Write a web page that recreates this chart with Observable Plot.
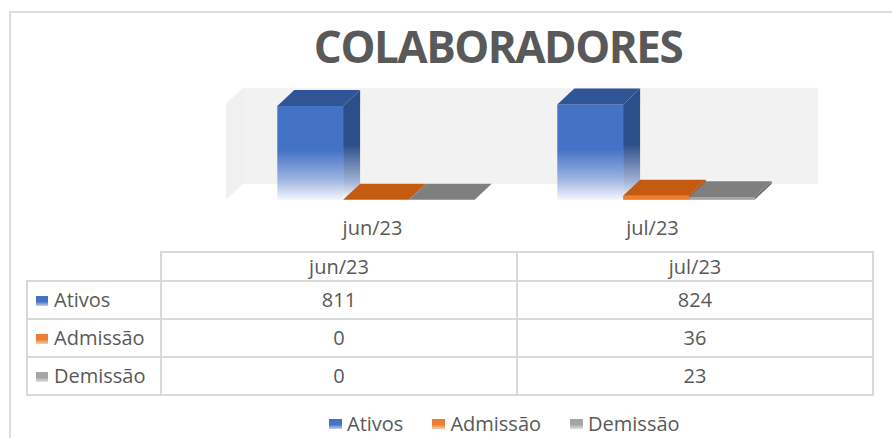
<!DOCTYPE html>
<html><head><meta charset="utf-8">
<script src="https://cdn.jsdelivr.net/npm/d3@7"></script>
<script src="https://cdn.jsdelivr.net/npm/@observablehq/plot@0.6"></script>
<style>
html,body{margin:0;padding:0;background:#fff;}
#root{position:relative;width:892px;height:438px;overflow:hidden;font-family:"Open Sans",sans-serif;color:#595959;background:#fff;}
#frame{position:absolute;left:9px;top:11px;width:1000px;height:1000px;border-left:2px solid #dedede;border-top:2px solid #dedede;}
#title{position:absolute;left:52px;top:24px;width:892px;text-align:center;font-size:44px;line-height:44px;font-weight:700;letter-spacing:-1.5px;}
#chart{position:absolute;left:0;top:80px;}
#tbl{position:absolute;left:26px;top:251px;border-collapse:collapse;table-layout:fixed;font-size:20px;color:#595959;}
#tbl td{border:2px solid #d9d9d9;padding:0;text-align:center;white-space:nowrap;}
#tbl tr.h td{height:27px;line-height:27px;}
#tbl tr.r td{height:36px;line-height:36px;}
#tbl td.lab{text-align:left;padding-left:8px;}
#tbl td.corner{border-top:none;border-left:none;}
.sw{display:inline-block;width:12px;height:10px;margin-right:6px;vertical-align:1px;}
#legend{position:absolute;left:329px;top:412px;display:flex;align-items:center;font-size:20px;line-height:24px;}
#legend .it{display:flex;align-items:center;margin-right:29px;}
#legend .sw{width:13px;height:10px;margin-right:5px;vertical-align:0;}
</style>
</head><body>
<div id="root">
  <div id="frame"></div>
  <div id="title">COLABORADORES</div>
  <div id="chart"></div>
  <table id="tbl"></table>
  <div id="legend"></div>
</div>
<script>
// ---- data ----
const titleText = "COLABORADORES";
const months = ["jun/23", "jul/23"];
const seriesNames = ["Ativos", "Admissão", "Demissão"];
const ativos = [811, 824];
const admissao = [0, 36];
const demissao = [0, 23];
const seriesValues = [ativos, admissao, demissao];

// ---- styles ----
const frontFill = ["url(#gBlueFront)", "#ed7d31", "#a5a5a5"];
const sideFill = ["url(#gBlueSide)", "#a84e12", "#6e6e6e"];
const topFill = ["#2f5597", "#c55a11", "#7f7f7f"];
const swatchBg = [
  "linear-gradient(#4472c4 55%, #c3d0ec)",
  "linear-gradient(#ed7d31 55%, #f8cdb0)",
  "linear-gradient(#a5a5a5 55%, #e2e2e2)"
];
const BW = 0.235;      // bar width in category units
const DX = 0.0607;     // depth offset, x units
const DY = 138;        // depth offset, y units
const wallTop = Math.ceil(d3.max(ativos) / 10) * 10;
const wallX0 = -0.475, wallX1 = months.length - 0.421;

// ---- geometry derived from data ----
const bars = [];
seriesValues.forEach((vals, j) => vals.forEach((v, i) => {
  const x0 = i + (j - 1.5) * BW, x1 = x0 + BW;
  bars.push({s: j, k: months[i], x0, x1, v});
}));

const marks = [];
// back wall and left side wall
marks.push(Plot.rect([0], {x1: () => wallX0, x2: () => wallX1, y1: () => DY, y2: () => wallTop + DY, fill: "#f2f2f2"}));
marks.push(Plot.areaY([
  {x: wallX0 - DX, y1: 0, y2: wallTop},
  {x: wallX0, y1: DY, y2: wallTop + DY}
], {x: "x", y1: "y1", y2: "y2", fill: "#f0f0f0"}));

seriesNames.forEach((name, j) => {
  const bs = bars.filter(b => b.s === j);
  marks.push(Plot.rect(bs, {x1: "x0", x2: "x1", y1: () => 0, y2: "v", fill: frontFill[j]}));
  const sidePts = bs.flatMap(b => [
    {k: b.k, x: b.x1, y1: 0, y2: b.v},
    {k: b.k, x: b.x1 + DX, y1: DY, y2: b.v + DY}
  ]);
  marks.push(Plot.areaY(sidePts, {x: "x", y1: "y1", y2: "y2", z: "k", fill: sideFill[j]}));
  const topPts = bs.flatMap(b => [
    {k: b.k, y: b.v, x1: b.x0, x2: b.x1},
    {k: b.k, y: b.v + DY, x1: b.x0 + DX, x2: b.x1 + DX}
  ]);
  marks.push(Plot.areaX(topPts, {y: "y", x1: "x1", x2: "x2", z: "k", fill: topFill[j]}));
});

marks.push(Plot.text(months, {x: (d, i) => i, text: d => d, frameAnchor: "bottom", dy: -11, dx: -4,
  fontSize: 20, fill: "#595959", fontFamily: "Open Sans"}));

const svg = Plot.plot({
  width: 892, height: 165,
  marginTop: 0, marginBottom: 0, marginLeft: 0, marginRight: 0,
  x: {domain: [-376 / 280, 516 / 280], axis: null},
  y: {domain: [-390, 1035], axis: null},
  style: {background: "transparent", fontFamily: "Open Sans", overflow: "visible"},
  marks
});
const defs = d3.select(svg).insert("defs", ":first-child");
function grad(id, stops) {
  const g = defs.append("linearGradient").attr("id", id).attr("x1", 0).attr("y1", 0).attr("x2", 0).attr("y2", 1);
  stops.forEach(([o, c]) => g.append("stop").attr("offset", o).attr("stop-color", c));
}
grad("gBlueFront", [[0, "#4472c4"], [0.47, "#4472c4"], [0.78, "#9db3e0"], [1, "#f3f6fc"]]);
grad("gBlueSide", [[0, "#2c4f8c"], [0.5, "#2c4f8c"], [0.85, "#a8b8d6"], [1, "#ffffff"]]);
document.getElementById("chart").appendChild(svg);

// ---- data table ----
const tbl = d3.select("#tbl");
const cg = tbl.append("colgroup");
[134, 356, 356].forEach(w => cg.append("col").style("width", w + "px"));
const hr = tbl.append("tr").attr("class", "h");
hr.append("td").attr("class", "corner");
months.forEach(m => hr.append("td").text(m));
seriesNames.forEach((name, j) => {
  const tr = tbl.append("tr").attr("class", "r");
  const td = tr.append("td").attr("class", "lab");
  td.append("span").attr("class", "sw").style("background", swatchBg[j]);
  td.append("span").text(name);
  seriesValues[j].forEach(v => tr.append("td").text(v));
});

// ---- legend ----
const lg = d3.select("#legend");
seriesNames.forEach((name, j) => {
  const it = lg.append("div").attr("class", "it");
  it.append("span").attr("class", "sw").style("background", swatchBg[j]);
  it.append("span").text(name);
});
</script>
</body></html>
